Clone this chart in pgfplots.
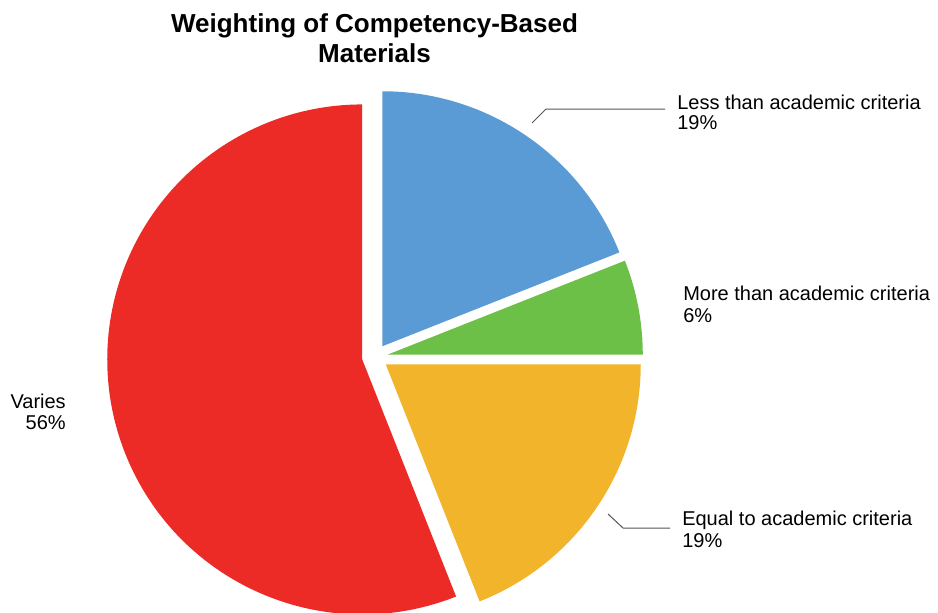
\documentclass[border=0pt]{standalone}
\usepackage{pgfplots}
\usepackage{pgfplotstable}
\pgfplotsset{compat=1.18}
\usepackage{fontspec}
\setmainfont{Liberation Sans}
\definecolor{pieblue}{HTML}{5B9BD5}
\definecolor{piegreen}{HTML}{6CBF47}
\definecolor{pieyellow}{HTML}{F2B42A}
\definecolor{piered}{HTML}{EC2B27}
\definecolor{leader}{HTML}{555555}
\pgfplotstableread{
label value
Less 19
More 6
Equal 19
Varies 56
}\piedata
\begin{document}
\begin{tikzpicture}
\begin{axis}[
  scale only axis, width=703.5pt, height=459pt,
  xmin=0, xmax=938, ymin=0, ymax=612,
  hide axis, clip=false,
]
\path (axis cs:0,0) rectangle (axis cs:938,612);
\pgfplotsextra{
  \gdef\cum{0}
  \foreach \i/\col in {0/pieblue,1/piegreen,2/pieyellow,3/piered}{
    \pgfplotstablegetelem{\i}{value}\of\piedata
    \let\val\pgfplotsretval
    \pgfmathsetmacro\sa{90-3.6*\cum}
    \pgfmathsetmacro\ea{90-3.6*(\cum+\val)}
    \pgfmathsetmacro\ma{(\sa+\ea)/2}
    \pgfmathsetmacro\cx{375+13*cos(\ma)}
    \pgfmathsetmacro\cy{255+13*sin(\ma)}
    \fill[\col, overlay] (axis cs:\cx,\cy) -- ++(\sa:191.25pt) arc[start angle=\sa, end angle=\ea, radius=191.25pt] -- cycle;
    \pgfmathsetmacro\newcum{\cum+\val}
    \xdef\cum{\newcum}
  }
}
% title
\node[anchor=base, inner sep=0, font=\fontsize{19.5}{22.5}\selectfont\bfseries] at (axis cs:374.5,579) {Weighting of Competency-Based};
\node[anchor=base, inner sep=0, font=\fontsize{19.5}{22.5}\selectfont\bfseries] at (axis cs:374.5,549) {Materials};
% leader lines
\draw[leader, line width=0.75pt] (axis cs:532,489) -- (axis cs:546,503) -- (axis cs:665,503);
\draw[leader, line width=0.75pt] (axis cs:608,98) -- (axis cs:623,84) -- (axis cs:670,84);
% labels
\tikzset{lbl/.style={inner sep=0, font=\fontsize{15}{16.5}\selectfont}}
\node[lbl, anchor=base west] at (axis cs:677,503) {Less than academic criteria};
\node[lbl, anchor=base west] at (axis cs:677,482.5) {19\%};
\node[lbl, anchor=base west] at (axis cs:683,312) {More than academic criteria};
\node[lbl, anchor=base west] at (axis cs:683,290) {6\%};
\node[lbl, anchor=base west] at (axis cs:682,87) {Equal to academic criteria};
\node[lbl, anchor=base west] at (axis cs:682,65) {19\%};
\node[lbl, anchor=base east] at (axis cs:66,204) {Varies};
\node[lbl, anchor=base east] at (axis cs:66,183) {56\%};
\end{axis}
\end{tikzpicture}
\end{document}
